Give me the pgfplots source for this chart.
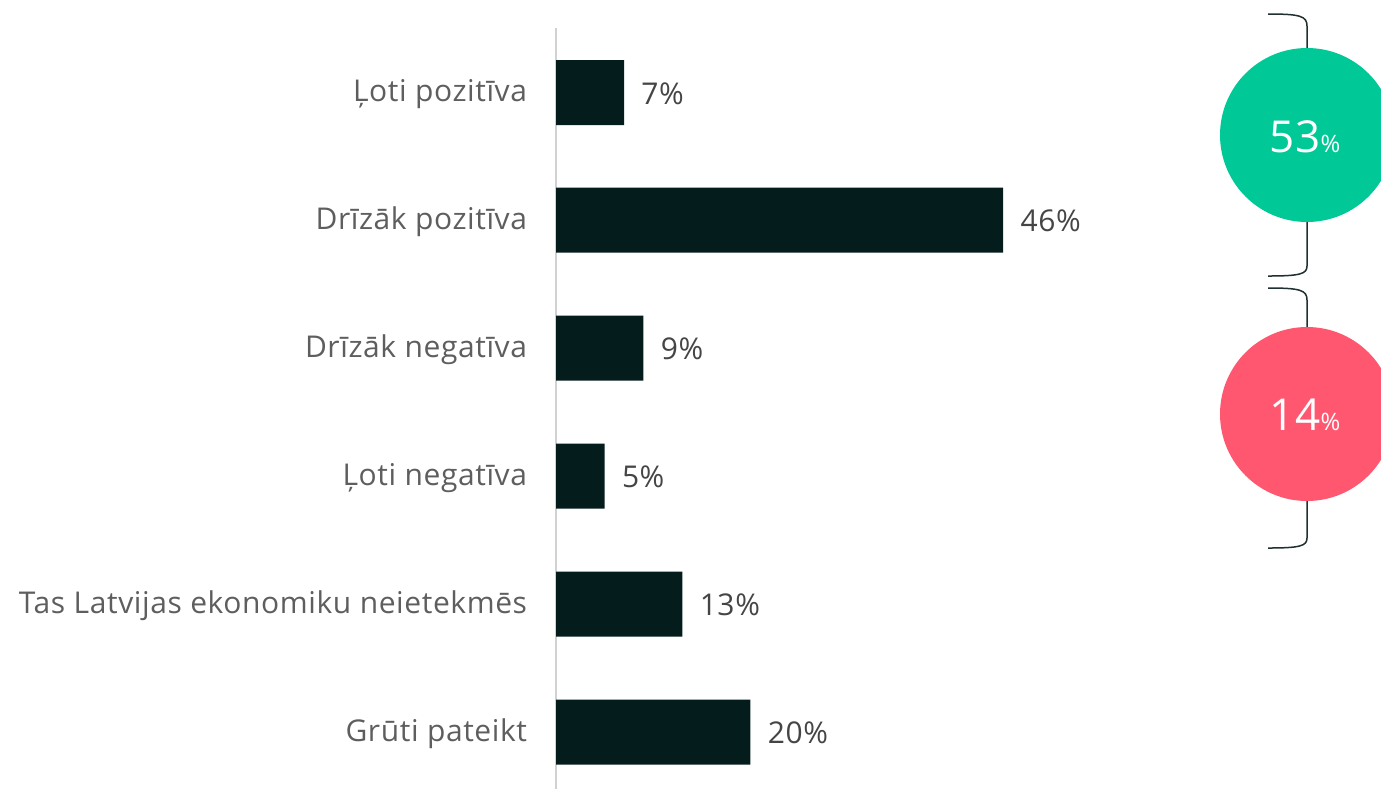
\documentclass[border=0pt]{standalone}
\usepackage{pgfplots}
\pgfplotsset{compat=1.18}
\usepackage{fontspec}
\setmainfont{Open Sans}[LetterSpace=2]
\definecolor{barc}{HTML}{041C1C}
\definecolor{labgray}{HTML}{5E5E5E}
\definecolor{numgray}{HTML}{454545}
\definecolor{greenc}{HTML}{00C896}
\definecolor{redc}{HTML}{FF5770}
\definecolor{bracec}{HTML}{1E3030}
\begin{document}
\begin{tikzpicture}
\useasboundingbox (0,0) rectangle (690.5pt,-394.5pt);
\begin{axis}[
  at={(278pt,-14pt)}, anchor=north west,
  scale only axis, width=388.8pt, height=380.5pt,
  xmin=0, xmax=80, ymin=28, ymax=789, y dir=reverse,
  /pgf/number format/assume math mode=true,
  axis x line=none, axis y line*=left,
  y axis line style={draw=black!18, line width=0.8pt, -},
  ytick={92.5,220,348,476,604,732},
  yticklabels={Ļoti pozitīva, Drīzāk pozitīva, Drīzāk negatīva, Ļoti negatīva, Tas Latvijas ekonomiku neietekmēs, Grūti pateikt},
  ytick style={draw=none},
  yticklabel style={font=\fontsize{15}{17}\selectfont, text=labgray, anchor=east, inner sep=0pt, xshift=-10pt, yshift=-1pt},
  xbar, bar width=32.5pt,
  point meta=x,
  nodes near coords={\pgfmathprintnumber{\pgfplotspointmeta}\%},
  nodes near coords style={font=\fontsize{15}{17}\selectfont, text=numgray, anchor=west, inner sep=0pt, xshift=8.5pt, yshift=-0.5pt},
  clip=false,
]
\addplot[fill=barc, draw=none] coordinates {(7,92.5) (46,220) (9,348) (5,476) (13,604) (20,732)};
\end{axis}
\begin{scope}
\clip (0,0) rectangle (690.5pt,-394.5pt);
% braces
\draw[bracec, line width=0.75pt] (634pt,-7pt) .. controls (650pt,-7pt) and (653.5pt,-8pt) .. (653.5pt,-13pt) -- (653.5pt,-133pt) .. controls (653.5pt,-137pt) and (650pt,-138pt) .. (634pt,-138pt);
\draw[bracec, line width=0.75pt] (634pt,-144pt) .. controls (650pt,-144pt) and (653.5pt,-145pt) .. (653.5pt,-150pt) -- (653.5pt,-269pt) .. controls (653.5pt,-273pt) and (650pt,-274pt) .. (634pt,-274pt);
\fill[greenc] (653.5pt,-67.5pt) circle (43.5pt);
\fill[redc] (653.5pt,-207pt) circle (43.5pt);
\node[text=white, inner sep=0pt] at (652.5pt,-68.5pt) {\fontsize{22}{24}\selectfont 53\fontsize{12}{14}\selectfont\%};
\node[text=white, inner sep=0pt] at (652.5pt,-207.5pt) {\fontsize{22}{24}\selectfont 14\fontsize{12}{14}\selectfont\%};
\end{scope}
\end{tikzpicture}
\end{document}
